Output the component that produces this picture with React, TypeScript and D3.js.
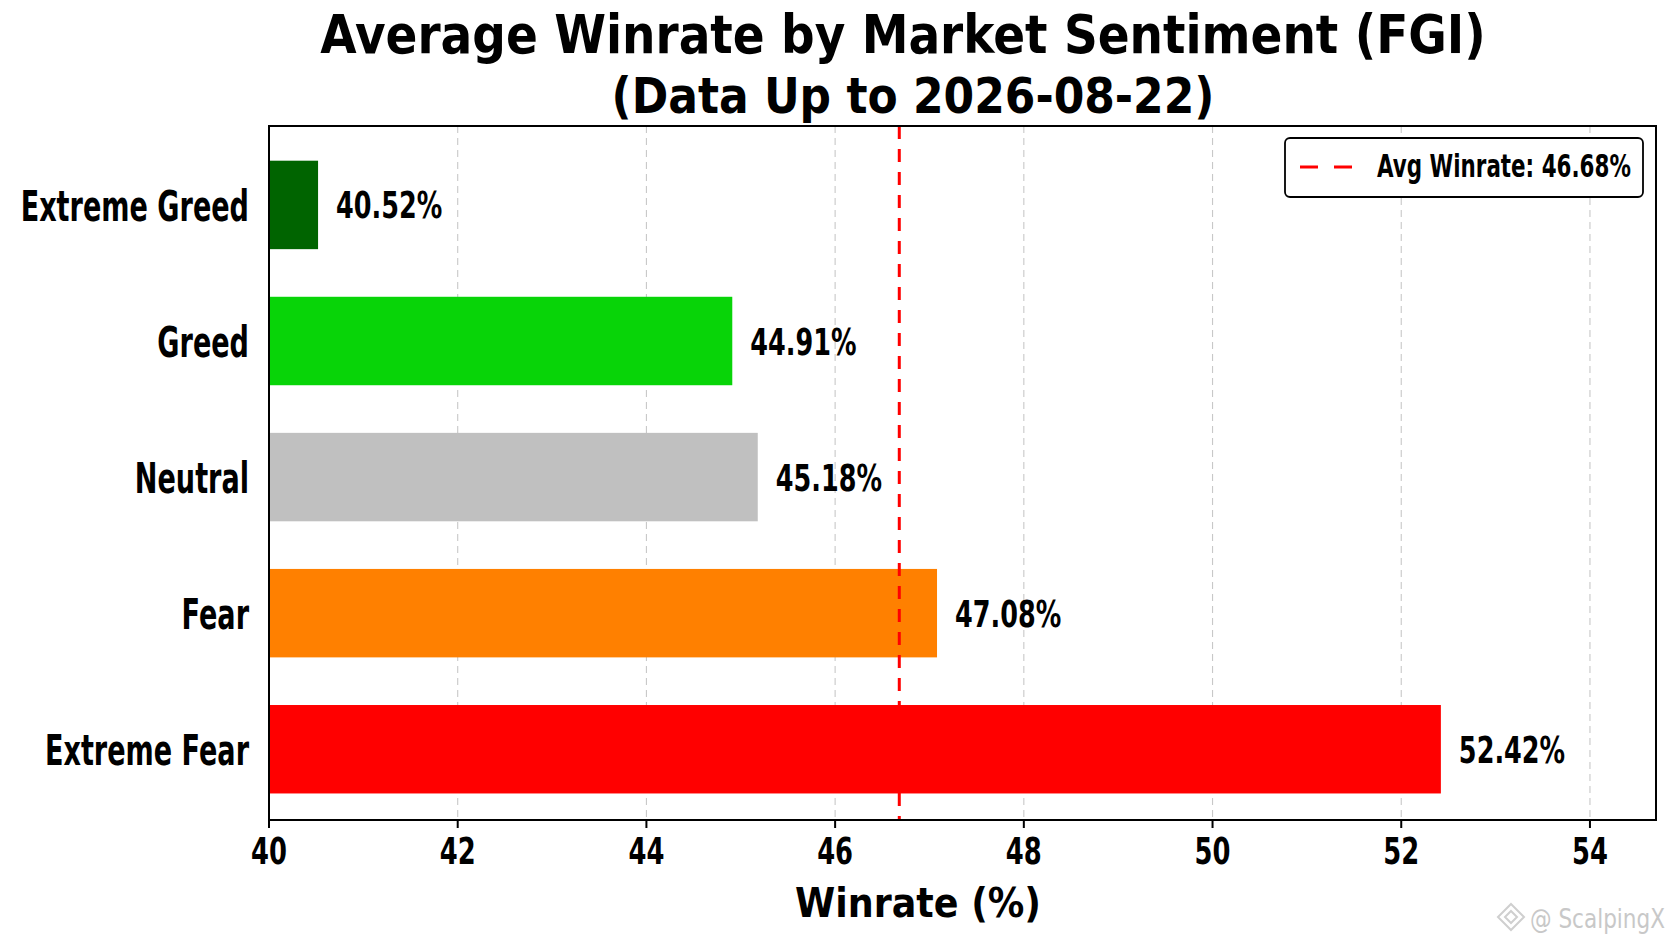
import * as d3 from 'd3';

// sentiment buckets, bottom to top as drawn
const categories = ['Extreme Fear', 'Fear', 'Neutral', 'Greed', 'Extreme Greed'];
const winrates = [52.42, 47.08, 45.18, 44.91, 40.52];
const barColors = ['#ff0000', '#ff8000', '#c0c0c0', '#08d408', '#006400'];
const avgWinrate = 46.68;
const xTicks = [40, 42, 44, 46, 48, 50, 52, 54];
const titleLines = ['Average Winrate by Market Sentiment (FGI)', '(Data Up to 2026-08-22)'];
const xLabel = 'Winrate (%)';

const W = 1672;
const H = 941;
const plot = { left: 269, right: 1656, top: 126, bottom: 820 };
const font = '"DejaVu Sans", sans-serif';

// text in the picture is squeezed sideways, so each kind gets its own x scale
function Label({ x, y, size, sx, anchor = 'start', weight = 'bold', fill = '#000', children }: any) {
  return (
    <text
      transform={`translate(${x},${y}) scale(${sx},1)`}
      fontFamily={font}
      fontWeight={weight}
      fontSize={size}
      textAnchor={anchor}
      fill={fill}
    >
      {children}
    </text>
  );
}

export default function App() {
  const x = d3.scaleLinear().domain([40, 54.7]).range([plot.left, plot.right]);
  const y = d3.scaleLinear().domain([-0.52, 4.58]).range([plot.bottom, plot.top]);
  const barH = y(0) - y(0.65);

  return (
    <>
      <style>{'body{margin:0;background:#fff}'}</style>
      <svg width={W} height={H} viewBox={`0 0 ${W} ${H}`} style={{ display: 'block', background: '#fff' }}>
        <Label x={903} y={53} size={54} sx={0.87} anchor="middle">
          {titleLines[0]}
        </Label>
        <Label x={913} y={113} size={50} sx={0.88} anchor="middle">
          {titleLines[1]}
        </Label>

        {xTicks.map((t) => (
          <line
            key={`g-${t}`}
            x1={x(t)}
            x2={x(t)}
            y1={plot.top}
            y2={plot.bottom}
            stroke="#c8c8c8"
            strokeWidth={1.1}
            strokeDasharray="7 5"
          />
        ))}

        {categories.map((c, i) => {
          const cy = y(i);
          return (
            <g key={c}>
              <rect
                x={x(40)}
                y={cy - barH / 2}
                width={x(winrates[i]) - x(40)}
                height={barH}
                fill={barColors[i]}
              />
              <Label x={x(winrates[i]) + 18} y={cy + 13.5} size={37} sx={0.69}>
                {`${winrates[i].toFixed(2)}%`}
              </Label>
              <Label x={plot.left - 20} y={cy + 15.7} size={43} sx={0.63} anchor="end">
                {c}
              </Label>
            </g>
          );
        })}

        <line
          x1={x(avgWinrate)}
          x2={x(avgWinrate)}
          y1={plot.top}
          y2={plot.bottom}
          stroke="#ff0000"
          strokeWidth={3}
          strokeDasharray="13 10"
        />

        <rect
          x={plot.left}
          y={plot.top}
          width={plot.right - plot.left}
          height={plot.bottom - plot.top}
          fill="none"
          stroke="#000"
          strokeWidth={2}
        />

        {xTicks.map((t) => (
          <g key={`t-${t}`}>
            <line x1={x(t)} x2={x(t)} y1={plot.bottom} y2={plot.bottom + 8} stroke="#000" strokeWidth={2} />
            <Label x={x(t)} y={864} size={38} sx={0.68} anchor="middle">
              {t}
            </Label>
          </g>
        ))}

        <Label x={918} y={917} size={41} sx={0.89} anchor="middle">
          {xLabel}
        </Label>

        <g>
          <rect x={1285} y={138} width={358} height={59} rx={5} fill="#fff" stroke="#000" strokeWidth={1.8} />
          <line x1={1300} x2={1352} y1={167} y2={167} stroke="#ff0000" strokeWidth={3} strokeDasharray="18 16" />
          <Label x={1377} y={177} size={32} sx={0.67}>
            {`Avg Winrate: ${avgWinrate.toFixed(2)}%`}
          </Label>
        </g>

        <g stroke="#cfcfcf" strokeWidth={2} fill="none">
          <path d="M1511,904 L1524,917 L1511,930 L1498,917 Z" />
          <path d="M1511,911 L1517,917 L1511,923 L1505,917 Z" />
        </g>
        <Label x={1530} y={928} size={26} sx={0.83} weight="normal" fill="#c8c8c8">
          @ ScalpingX
        </Label>
      </svg>
    </>
  );
}
